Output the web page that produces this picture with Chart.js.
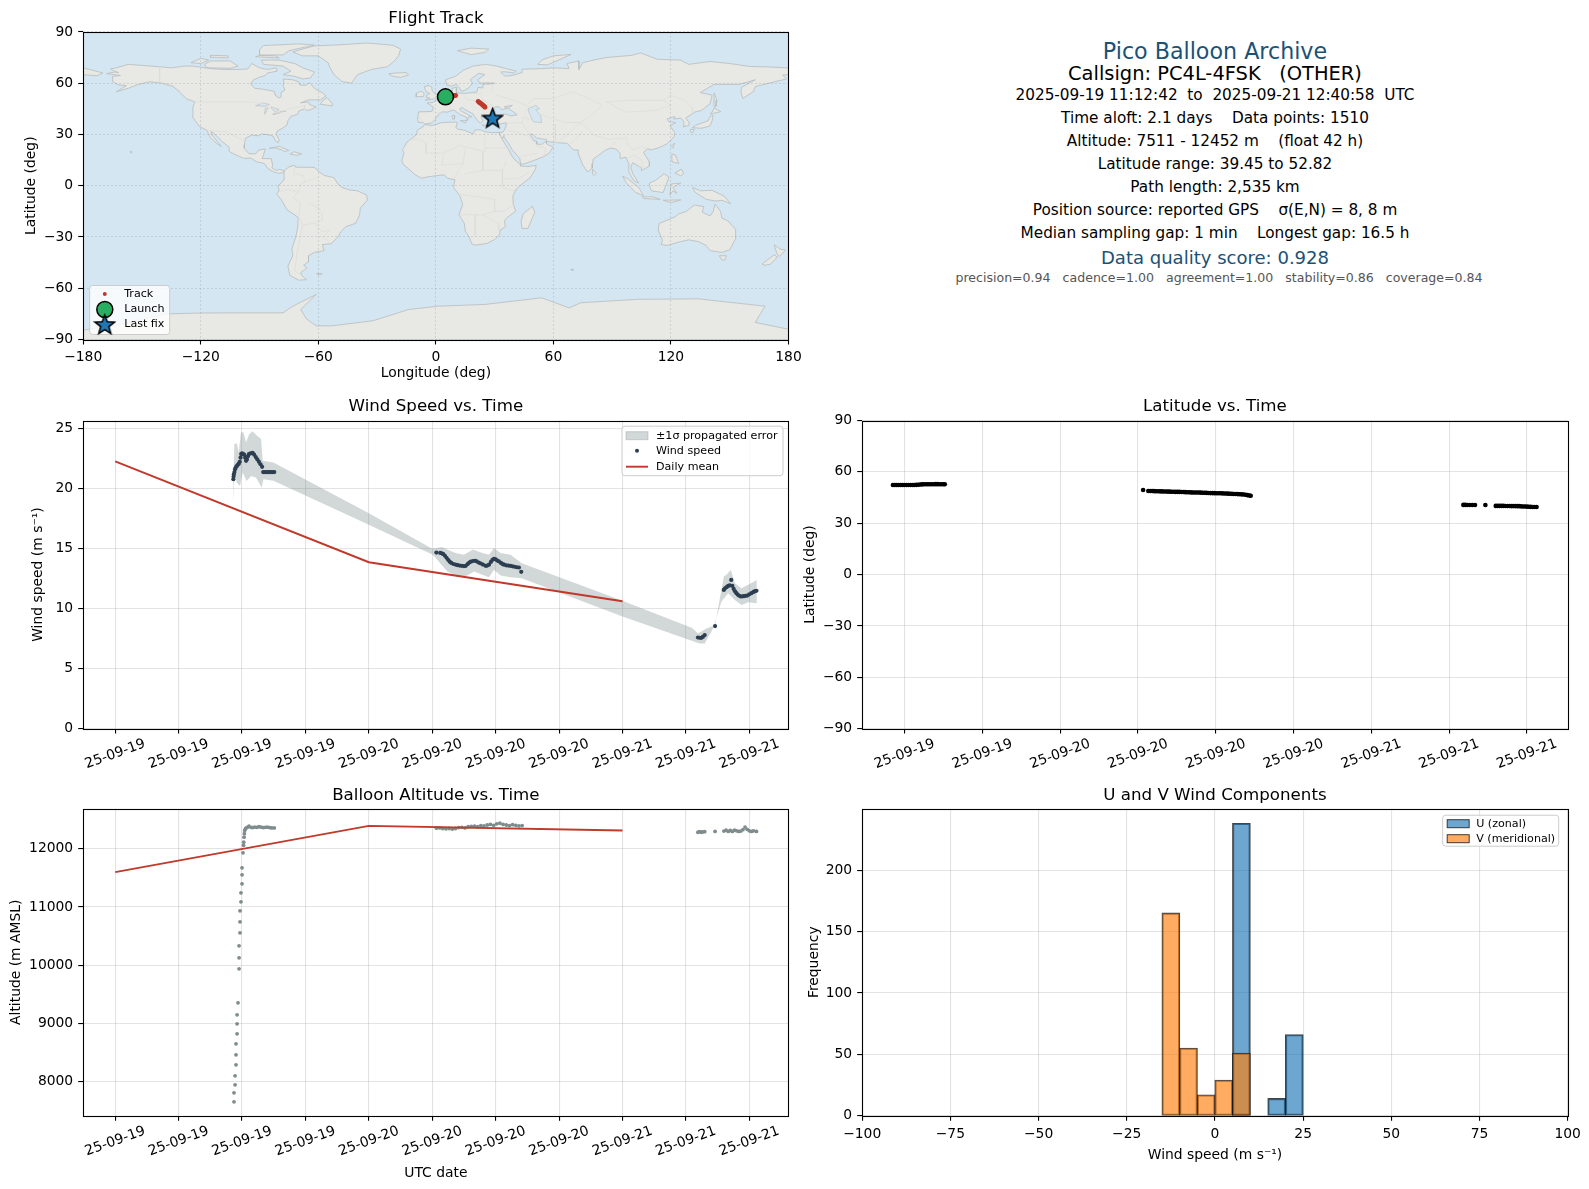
<!DOCTYPE html>
<html>
<head>
<meta charset="utf-8">
<title>Pico Balloon Archive</title>
<script src="https://cdn.jsdelivr.net/npm/chart.js@4/dist/chart.umd.js"></script>
<style>
    html, body { margin: 0; padding: 0; background: #fff; }
    body { position: relative; width: 1589px; height: 1189px; overflow: hidden; font-family: "DejaVu Sans", sans-serif; }
    canvas { position: absolute; display: block; }
    .info { position: absolute; left: 862px; width: 706px; text-align: center; white-space: pre; transform: translateY(-50%); color: #000; font-size: 15.28px; line-height: 1.2; }
    .info.head { color: #1a5276; font-size: 22.2px; }
    .info.call { font-size: 19.44px; }
    .info.score { color: #1a5276; font-size: 18.05px; }
    .info.sub { color: #555; font-size: 12.57px; left: 866px; }
</style>
</head>
<body>
<canvas id="mapChart" width="830" height="385" style="left:0;top:0"></canvas>
<canvas id="windChart" width="830" height="385" style="left:0;top:385px"></canvas>
<canvas id="latChart" width="794" height="385" style="left:795px;top:385px"></canvas>
<canvas id="altChart" width="830" height="419" style="left:0;top:770px"></canvas>
<canvas id="histChart" width="794" height="419" style="left:795px;top:770px"></canvas>
<div class="info head" style="top:50.7px">Pico Balloon Archive</div>
<div class="info call" style="top:74px">Callsign: PC4L-4FSK   (OTHER)</div>
<div class="info" style="top:94.5px">2025-09-19 11:12:42  to  2025-09-21 12:40:58  UTC</div>
<div class="info" style="top:117.6px">Time aloft: 2.1 days    Data points: 1510</div>
<div class="info" style="top:140.5px">Altitude: 7511 - 12452 m    (float 42 h)</div>
<div class="info" style="top:163.5px">Latitude range: 39.45 to 52.82</div>
<div class="info" style="top:186.5px">Path length: 2,535 km</div>
<div class="info" style="top:209.8px">Position source: reported GPS    σ(E,N) = 8, 8 m</div>
<div class="info" style="top:232.5px">Median sampling gap: 1 min    Longest gap: 16.5 h</div>
<div class="info score" style="top:258px">Data quality score: 0.928</div>
<div class="info sub" style="top:278px">precision=0.94   cadence=1.00   agreement=1.00   stability=0.86   coverage=0.84</div>
<script>
// Time axis: hours since 2025-09-19 00:00 UTC
const leftTickHours = [0, 6, 12, 18, 24, 30, 36, 42, 48, 54, 60];
const leftTickLabels = ['25-09-19', '25-09-19', '25-09-19', '25-09-19', '25-09-20', '25-09-20', '25-09-20', '25-09-20', '25-09-21', '25-09-21', '25-09-21'];
const latTickHours = [12, 18, 24, 30, 36, 42, 48, 54, 60];
const latTickLabels = ['25-09-19', '25-09-19', '25-09-20', '25-09-20', '25-09-20', '25-09-20', '25-09-21', '25-09-21', '25-09-21'];

// Wind speed panel
const windHours = [11.18, 11.2, 11.22, 11.28, 11.34, 11.42, 11.5, 11.6, 11.7, 11.78, 11.86, 11.92, 12.0, 12.1, 12.2, 12.3, 12.38, 12.46, 12.55, 12.65, 12.8, 13.0, 13.15, 13.3, 13.45, 13.6, 13.75, 13.9, 14.0, 14.15, 14.3, 14.45, 14.6, 14.75, 14.9, 15.05,
    30.39, 30.75, 30.9, 31.05, 31.2, 31.35, 31.5, 31.65, 31.8, 32.0, 32.2, 32.4, 32.6, 32.8, 33.0, 33.17, 33.35, 33.5, 33.65, 33.85, 34.05, 34.2, 34.4, 34.6, 34.8, 35.05, 35.2, 35.37, 35.55, 35.7, 35.84, 36.0, 36.15, 36.3, 36.5, 36.65, 36.8, 37.0, 37.2, 37.4, 37.6, 37.8, 38.0, 38.2, 38.42,
    55.14, 55.3, 55.46, 55.6, 55.78, 56.76, 57.59, 57.7, 57.85, 58.0, 58.15, 58.29, 58.4, 58.52, 58.65, 58.78, 58.9, 59.05, 59.2, 59.35, 59.5, 59.65, 59.8, 60.0, 60.2, 60.4, 60.55, 60.68];
const windSpeed = [20.8, 21.0, 21.2, 21.4, 21.64, 21.8, 21.9, 22.0, 22.1, 22.26, 22.6, 22.9, 22.95, 22.9, 22.85, 22.6, 22.34, 22.45, 22.7, 22.9, 22.95, 23.0, 22.85, 22.65, 22.45, 22.25, 22.05, 21.84, 21.4, 21.4, 21.4, 21.4, 21.4, 21.4, 21.4, 21.4,
    14.68, 14.65, 14.62, 14.55, 14.42, 14.25, 14.08, 13.92, 13.82, 13.73, 13.68, 13.63, 13.6, 13.58, 13.56, 13.58, 13.72, 13.85, 13.92, 13.98, 14.0, 13.95, 13.85, 13.77, 13.68, 13.58, 13.6, 13.67, 13.9, 14.08, 14.17, 14.12, 14.02, 13.95, 13.82, 13.72, 13.67, 13.62, 13.6, 13.58, 13.54, 13.5, 13.46, 13.44, 13.08,
    7.6, 7.58, 7.57, 7.65, 7.8, 8.55, 11.57, 11.7, 11.8, 11.9, 11.95, 12.4, 11.9, 11.65, 11.45, 11.3, 11.18, 11.08, 11.02, 11.03, 11.05, 11.08, 11.1, 11.2, 11.3, 11.4, 11.46, 11.5];
const bandUpperHours = [11.18, 11.28, 11.5, 11.69, 11.9, 12.13, 12.38, 12.69, 13.0, 13.39, 13.8, 13.95, 14.97, 24, 30, 30.9, 31.43, 32.2, 33, 33.86, 34.74, 35.37, 35.84, 36.47, 37.4, 38.47, 48, 54.6, 55.14, 55.94, 56.76, 57.59, 57.84, 58.25, 58.63, 59.27, 59.9, 60.7];
const bandUpper = [20.94, 23.74, 23.8, 23.04, 24.72, 24.69, 23.88, 24.58, 24.8, 24.44, 24.16, 22.34, 22.2, 17.97, 15.0, 15.15, 14.93, 14.65, 14.5, 14.93, 14.65, 14.5, 15.07, 14.65, 14.5, 13.8, 10.67, 8.4, 7.93, 8.35, 8.63, 12.69, 12.83, 13.25, 12.13, 11.7, 11.99, 12.4];
const bandLowerHours = [60.7, 59.9, 59.27, 58.63, 58, 57.37, 56.57, 55.78, 55.3, 48, 38.47, 37.4, 36.47, 35.84, 35.37, 34.74, 33.95, 33, 32.2, 31.43, 30.05, 24, 14.97, 14.02, 13.86, 13.32, 12.85, 12.44, 12.06, 11.81, 11.5, 11.28, 11.18];
const bandLower = [10.45, 10.53, 10.31, 10.73, 11.29, 10.6, 8.35, 7.1, 7.1, 9.36, 12.55, 12.63, 12.77, 13.25, 12.63, 12.83, 13.1, 12.63, 12.77, 13.1, 14.5, 17.0, 20.67, 20.8, 20.1, 20.94, 21.08, 20.66, 21.36, 20.24, 20.52, 21.5, 18.84];
const dailyHours = [0, 24, 48];
const dailyWind = [22.3, 13.88, 10.62];
const dailyAltitude = [11600, 12395, 12315];

// Latitude panel
const latHours = [11.1, 11.25, 11.4, 11.55, 11.7, 11.85, 12.0, 12.15, 12.3, 12.45, 12.6, 12.75, 12.9, 13.05, 13.2, 13.35, 13.5, 13.65, 13.8, 13.95, 14.1, 14.25, 14.4, 14.55, 14.7, 14.85, 15.0, 15.1,
    30.4, 30.8, 30.95, 31.1, 31.25, 31.4, 31.55, 31.7, 31.85, 32.0, 32.15, 32.3, 32.45, 32.6, 32.75, 32.9, 33.05, 33.2, 33.35, 33.5, 33.65, 33.8, 33.95, 34.1, 34.25, 34.4, 34.55, 34.7, 34.85, 35.0, 35.15, 35.3, 35.45, 35.6, 35.75, 35.9, 36.05, 36.2, 36.35, 36.5, 36.65, 36.8, 36.95, 37.1, 37.25, 37.4, 37.55, 37.7, 37.85, 38.0, 38.15, 38.3, 38.45, 38.6, 38.7,
    55.1, 55.25, 55.4, 55.6, 55.8, 56.0, 56.8, 57.6, 57.75, 57.9, 58.05, 58.2, 58.35, 58.5, 58.65, 58.8, 58.95, 59.1, 59.25, 59.4, 59.55, 59.7, 59.85, 60.0, 60.15, 60.3, 60.45, 60.6, 60.75];
const latValues = [52.3, 52.3, 52.3, 52.3, 52.3, 52.3, 52.3, 52.3, 52.32, 52.32, 52.33, 52.35, 52.4, 52.45, 52.6, 52.68, 52.72, 52.72, 52.75, 52.75, 52.78, 52.8, 52.82, 52.82, 52.8, 52.8, 52.78, 52.78,
    49.4, 48.8, 48.8, 48.78, 48.72, 48.7, 48.65, 48.6, 48.58, 48.55, 48.5, 48.45, 48.42, 48.4, 48.35, 48.3, 48.3, 48.28, 48.22, 48.2, 48.15, 48.1, 48.05, 48.0, 47.98, 47.95, 47.92, 47.9, 47.85, 47.8, 47.75, 47.7, 47.65, 47.6, 47.58, 47.55, 47.52, 47.5, 47.5, 47.45, 47.38, 47.35, 47.28, 47.2, 47.15, 47.1, 47.05, 47.0, 46.92, 46.85, 46.75, 46.6, 46.4, 46.2, 46.0,
    40.7, 40.7, 40.65, 40.65, 40.6, 40.6, 40.6, 40.1, 40.1, 40.1, 40.1, 40.1, 40.08, 40.05, 40.05, 40.0, 40.0, 39.98, 39.95, 39.95, 39.85, 39.8, 39.75, 39.7, 39.6, 39.55, 39.5, 39.5, 39.45];

// Altitude panel
const altHours = [11.24, 11.24, 11.34, 11.34, 11.43, 11.43, 11.43, 11.53, 11.53, 11.53, 11.62, 11.72, 11.72, 11.72, 11.81, 11.81, 11.81, 11.9, 11.9, 12.0, 12.0, 12.0, 12.09, 12.14, 12.16, 12.19, 12.22, 12.25, 12.33, 12.41, 12.55, 12.66, 12.85, 13.0, 13.2, 13.4, 13.6, 13.8, 14.0, 14.2, 14.4, 14.6, 14.8, 15.05,
    30.4, 30.7, 31.0, 31.3, 31.6, 31.9, 32.2, 32.5, 32.8, 33.1, 33.4, 33.7, 34.0, 34.3, 34.6, 34.9, 35.2, 35.5, 35.8, 36.1, 36.4, 36.7, 37.0, 37.3, 37.6, 37.9, 38.2, 38.5,
    55.14, 55.3, 55.46, 55.6, 55.78, 56.76, 57.6, 57.8, 58.0, 58.2, 58.4, 58.6, 58.8, 59.0, 59.2, 59.4, 59.6, 59.8, 60.0, 60.2, 60.4, 60.68];
const altValues = [7650, 7805, 7943, 8097, 8287, 8458, 8648, 8820, 8991, 9146, 9352, 9937, 10126, 10332, 10556, 10745, 10934, 11089, 11244, 11398, 11553, 11673, 11931, 12060, 12115, 12200, 12260, 12315, 12345, 12361, 12375, 12390, 12370, 12365, 12375, 12370, 12380, 12375, 12365, 12370, 12375, 12365, 12360, 12360,
    12355, 12360, 12350, 12345, 12350, 12340, 12350, 12365, 12370, 12360, 12380, 12385, 12390, 12380, 12400, 12395, 12410, 12420, 12405, 12430, 12440, 12420, 12410, 12400, 12415, 12405, 12395, 12400,
    12285, 12295, 12285, 12290, 12295, 12300, 12305, 12320, 12300, 12315, 12300, 12320, 12310, 12300, 12305, 12330, 12375, 12335, 12310, 12300, 12310, 12300];

// Histogram panel
const binCentres = [-12.5, -7.5, -2.5, 2.5, 7.5, 12.5, 17.5, 22.5];
const uCounts = [null, null, null, null, 238, null, 14, 66];
const vCounts = [165, 55, 17, 29, 51, null, null, null];

// Flight track panel, lon / lat in degrees
const trackLon = [8.2, 8.8, 9.4, 9.8, 10.1, 21.6, 22.0, 22.4, 22.8, 23.2, 23.6, 24.0, 24.4, 24.8, 25.1];
const trackLat = [52.3, 52.4, 52.6, 52.7, 52.8, 49.4, 48.9, 48.6, 48.2, 47.9, 47.5, 47.1, 46.7, 46.3, 45.9];
const launchLon = [4.9];
const launchLat = [52.0];
const lastFixLon = [29.0];
const lastFixLat = [39.6];

const landNorthAmerica = [[-168,65.6],[-164,66.5],[-162,66.2],[-164,67],[-166,68.4],[-163,69],[-157,71],[-150,70.4],[-141,69.6],[-135,69],[-128,70],[-124,70],[-115,68.5],[-108,68],[-102,68],[-96,68.3],[-94,71.5],[-90,69],[-86,68],[-81.5,69],[-81,67],[-86,66],[-87,64.5],[-90,63.5],[-93,62],[-94.5,59.5],[-92.5,57],[-88,56.4],[-82.5,55.2],[-82,52.9],[-80,51.3],[-79,52],[-79,54.5],[-77,56],[-78,58.5],[-77.5,60.5],[-78,62.4],[-73,62],[-70,60.8],[-69.5,59],[-66.5,58.7],[-64.5,60.3],[-61.5,56.5],[-58,54.5],[-56,52.5],[-59,50.3],[-65,50.2],[-69,48.5],[-65,49],[-64.5,47.5],[-61,46],[-64,44.5],[-66,44],[-67,45],[-70,43.7],[-70.5,41.8],[-74,40.6],[-75.5,38],[-76,35.5],[-78,33.8],[-81,32],[-81.4,30],[-80,26.8],[-80.5,25.2],[-81.8,26],[-83,29],[-85,29.7],[-89,30.3],[-90,29.2],[-94,29.6],[-97.2,27.8],[-97.7,24],[-97.8,22],[-95.5,18.8],[-92,18.6],[-90.5,20.8],[-87,21.5],[-88,18],[-88.7,15.9],[-84,15.8],[-83.3,12],[-83.7,10.5],[-81.5,9],[-79.5,9.5],[-77.4,8.7],[-78,7.5],[-80.5,7.3],[-83,8.2],[-85.7,10],[-87.5,13],[-91.5,14],[-94.5,16.2],[-98,16],[-102,18],[-105.5,20],[-105.5,22.5],[-109,25.8],[-112.7,30],[-114.8,31.8],[-114.5,30],[-111,25],[-109.5,23],[-112,24.8],[-115,28],[-117,32.5],[-120.5,34.5],[-122.5,37.5],[-124.3,40.4],[-124,46],[-123,49],[-127.5,51],[-130.5,54.5],[-134,58],[-140,60],[-146,60.8],[-152,59.2],[-157,57],[-163,55],[-158,58.5],[-162,59],[-165,61],[-165,64],[-161,64.5],[-168,65.6]];
const landGreenland = [[-73,78.2],[-68,80],[-62,81.8],[-50,82.4],[-35,83.5],[-22,82.2],[-18,80],[-19,76],[-22,72],[-25,69.5],[-33,68],[-40,65],[-43,60],[-48,61],[-52,65],[-54,69],[-55,72],[-60,76],[-68,76],[-73,78.2]];
const landBaffin = [[-80,73.5],[-72,71.5],[-68,69],[-62,66.5],[-64,63],[-68,62.5],[-72,64],[-78,65],[-74,67],[-78,70],[-88,71],[-89,73.5],[-80,73.5]];
const landVictoria = [[-117,69],[-105,68.7],[-101,70],[-105,73],[-115,73],[-118,71],[-117,69]];
const landBanks = [[-125,72],[-120,71.5],[-116,73.5],[-120,74.5],[-125,72]];
const landEllesmere = [[-90,76.5],[-78,76.5],[-75,79],[-62,82.3],[-70,83],[-88,82],[-90,79.5],[-90,76.5]];
const landDevon = [[-92,75.5],[-80,74.7],[-82,76],[-90,76.2],[-92,75.5]];
const landMelville = [[-115,75.2],[-106,74.8],[-106,76],[-115,76.3],[-115,75.2]];
const landNewfoundland = [[-59,47.7],[-53,46.7],[-52.8,48],[-55.5,51.5],[-57.5,50],[-59,47.7]];
const landCuba = [[-85,21.9],[-80,23],[-75,20.7],[-77.5,19.9],[-78,20.7],[-82,22.2],[-85,21.9]];
const landHispaniola = [[-74.4,18.5],[-72.5,19.9],[-68.5,18.6],[-71,17.8],[-74.4,18.5]];
const landHawaii = [[-156,20.2],[-155,19.7],[-155.6,19],[-156,20.2]];
const landSouthAmerica = [[-77.4,8.7],[-75,11],[-72,12],[-71.5,10.8],[-68,10.8],[-62,10.7],[-60,8.5],[-57,6],[-52,4.7],[-50,1],[-48,-1],[-44,-2.5],[-40,-3],[-35.3,-5.5],[-35,-8.5],[-38.5,-13],[-39,-17.5],[-41,-22],[-46,-24],[-48.5,-27],[-50,-30],[-53.5,-34],[-58,-34.5],[-57,-38],[-62,-39],[-65,-41],[-65,-44.5],[-67.5,-46.5],[-65.8,-48],[-69,-51],[-68.5,-52.5],[-66,-55],[-70,-55.3],[-74.5,-52.5],[-75.5,-47],[-73,-41],[-73.5,-37],[-71.5,-30],[-70.5,-24],[-70.3,-18.5],[-76,-14],[-79,-8],[-81.2,-5],[-80,-2.5],[-80.5,0],[-78.5,2],[-77.3,4],[-77.5,7],[-77.4,8.7]];
const landAfrica = [[-5.8,35.8],[-2,35.2],[3,36.9],[10,37.3],[11,36.8],[10.2,34],[11,33.2],[15,32.3],[19,30.3],[20,32.7],[23,32.6],[25,31.6],[29,31],[32.3,31.2],[32.5,30],[33.5,28],[35.5,24],[37.2,21],[38.5,18],[40,15.5],[43,12.5],[43.3,11.5],[47,11.2],[51.2,11.9],[50.8,9.5],[48,4.5],[44,1],[41,-2],[39.3,-6],[39.5,-10.5],[40.7,-15],[36.5,-18.5],[35,-20.5],[35.5,-24],[32.8,-26],[32.5,-28.5],[30,-31.5],[26,-33.8],[20,-34.8],[18.3,-34],[17,-30],[15,-26.5],[14.5,-22],[11.8,-17],[13.7,-11],[12.3,-6],[9,-1],[9.7,3.5],[6,4.3],[4.3,6.3],[1,6],[-4,5.2],[-7.5,4.4],[-11,6.8],[-13.5,9.5],[-16.7,12.5],[-17.4,14.7],[-16.2,19],[-17,21],[-14.8,25.5],[-12,28],[-9.7,30],[-9.5,32.5],[-6.5,34.5],[-5.8,35.8]];
const landEurasia = [[-9,37],[-9.3,39],[-8.8,43.2],[-2,43.4],[-1.2,46],[-4.5,48.4],[-1.5,48.7],[1.5,50.7],[4,52],[5,53.3],[8.5,53.8],[8.2,57],[10.5,57.6],[10.5,54.5],[12,54.2],[14.5,54],[19,54.5],[21,55],[21.5,57.5],[24,57.2],[24,59.3],[28,59.6],[30,60],[26,60.2],[22.5,60],[21.3,62],[25,65],[22,65.8],[17.5,62],[18.8,60],[16.5,57],[14.3,55.6],[13,55.4],[11.5,58],[10.5,59.3],[8,58.2],[5.5,59],[5,62],[10,64],[14,67.5],[19,70],[25.5,71],[31,70],[41,67],[40,66],[35,66.7],[33,66.5],[35,64.3],[37,64.2],[40,64.8],[44,66.2],[44,68.2],[54,68.5],[60,69],[68,68.5],[67,71.5],[73,73],[73,68],[75,72],[80.5,73.5],[87,75],[100,76.3],[104.5,77.7],[113,74],[125,73.5],[129,71],[140,72.7],[150,71.5],[160,69.8],[170,69.5],[180,68.9],[180,65],[177,64.7],[179,62.5],[170,60],[163,58],[162,55],[156.7,51],[155.7,55],[156,57.5],[163,62],[155,59.3],[142,59.3],[135,54.5],[141,53],[140,48],[135.5,44],[132,43],[129.5,41],[127.5,39.5],[129.3,37],[129,35.2],[126.3,34.5],[126.6,37.5],[125,39.6],[121.5,39],[122,40.5],[118,39],[119,37.3],[122.5,37],[119.5,35],[122,31],[121.5,28.5],[118,24.5],[114,22.3],[110,21],[108,21.6],[106,19.5],[109,14],[109,11.5],[105,8.8],[105,10.4],[100.5,13.5],[99.5,11],[100.5,7],[103.5,1.5],[101,3],[98.5,8],[98.5,13],[97,16.7],[94.5,16],[94,19],[92,21.5],[89,22],[87,21],[85,19.5],[80.3,15.5],[80,13],[79.8,10.3],[77.5,8],[75,12],[73,18],[72.7,21],[70.5,20.8],[69,22.3],[67,24.8],[61.5,25.2],[57,25.8],[56.4,27],[51.5,27.9],[49,30.3],[48,30],[50,26.5],[51.3,26],[51.5,24.3],[54,24.2],[56.3,26],[56.5,24.5],[59.8,22.5],[57.8,19],[55,17],[52,15.6],[45,12.7],[43.3,12.8],[42.8,16],[39,21],[37,25],[35,28],[34.8,29.5],[34,27.8],[33,28.5],[32.6,29.9],[32.3,31.2],[34.3,31.3],[35.8,34.5],[36,36.8],[32.5,36.1],[30.5,36.5],[27.3,37],[26.3,39.3],[29,41],[31.5,41.2],[35,42],[38.5,40.9],[41.5,41.5],[38,44.5],[37,45.3],[39,47],[35,46.2],[36.5,45.3],[33.5,44.5],[32.5,46],[30.5,46.3],[28,43.2],[28,41.6],[26,40.8],[23,40.4],[24,38],[22.7,36.6],[21,38.5],[19.5,41],[19,42],[15,44.5],[13.6,45.7],[12.3,45.2],[12.5,44],[16,41.8],[18.5,40.2],[16.8,40.4],[16,38],[15.7,40],[12.3,41.7],[10.2,43.5],[8.8,44.4],[6,43.1],[3.2,43.2],[0.5,40.7],[-0.3,38.8],[-2,36.8],[-5.5,36],[-6.5,37],[-9,37]];
const landChukotka = [[-180,68.9],[-175,67.5],[-170,66],[-173,64.3],[-180,65],[-180,68.9]];
const landBritain = [[-5.5,50],[1.4,51.2],[1.7,52.7],[-0.3,53.5],[-2,56],[-2,57.6],[-3.5,58.6],[-6,58],[-5,55],[-3,54],[-4.5,53.2],[-5,51.8],[-3,51.3],[-5.5,50]];
const landIreland = [[-10,52],[-6.3,52.2],[-6,54],[-7.5,55.3],[-10,54.2],[-10,52]];
const landIceland = [[-24,65.5],[-22,64],[-18,63.4],[-14,64.8],[-15,66.2],[-20,66],[-24,65.5]];
const landSvalbard = [[11,79],[18,76.7],[25,78],[27,80],[18,80.5],[11,79]];
const landNovayaZemlya = [[52,71],[57,70.7],[69,76.8],[60,76],[54,73.5],[52,71]];
const landSicily = [[12.5,38],[15.5,38.2],[15,36.7],[12.5,38]];
const landSardinia = [[8.2,41],[9.7,41],[9.5,39],[8.5,39],[8.2,41]];
const landCrete = [[23.5,35.5],[26.3,35.3],[24.5,34.9],[23.5,35.5]];
const landHonshu = [[130.9,34],[135.5,33.6],[140,35],[141,38],[141.5,41.3],[140,40.5],[139,38],[136.5,37],[132.5,35.3],[130.9,34]];
const landHokkaido = [[140,42],[145.5,43.3],[142,45.5],[141,43],[140,42]];
const landKyushu = [[130,33],[132,33],[131,31],[130,31.5],[130,33]];
const landSakhalin = [[142,54.3],[143.5,50],[143,46.5],[142,46],[142,50],[142,54.3]];
const landTaiwan = [[120.2,23],[121.8,25],[121,22],[120.2,23]];
const landLuzon = [[120.5,18.5],[122.2,18],[124,13],[120.5,14],[120.5,18.5]];
const landMindanao = [[122,7.5],[125.5,9.7],[126.5,7],[125,5.8],[122,7.5]];
const landBorneo = [[109,1.5],[112,3],[116.5,7],[119,5],[117.7,1],[116,-4],[110,-3],[109,0],[109,1.5]];
const landSumatra = [[95.3,5.6],[98,4],[103.5,-1],[106,-5.8],[102,-4],[97,2],[95.3,5.6]];
const landJava = [[105.3,-6.5],[111,-6.5],[114.5,-8],[106,-7.5],[105.3,-6.5]];
const landSulawesi = [[119.5,-5.5],[120,1],[125,1.5],[121,-1],[123,-4.5],[121,-3],[119.5,-5.5]];
const landNewGuinea = [[131,-1],[135,-3],[141,-2.7],[147,-6],[150.5,-10.5],[146,-8.5],[143,-9],[138,-8],[132.5,-4],[131,-1]];
const landLesserSunda = [[116,-8.5],[125,-8.3],[120,-10],[116,-8.5]];
const landAustralia = [[114,-22],[113.5,-26],[115.7,-32],[115,-34.4],[118,-35],[124,-33],[129,-31.7],[134,-32.7],[138,-35],[140,-38],[146,-39],[150,-37.5],[153,-31],[153,-25.5],[149,-20.5],[146,-19],[145.3,-15],[142.5,-10.8],[141.6,-15],[140,-17.7],[136,-15.5],[136.8,-12.2],[132,-11.3],[130,-13],[128,-15],[124,-16.5],[122,-18.3],[117,-20.7],[114,-22]];
const landTasmania = [[144.7,-41],[148.3,-41],[147.5,-43.5],[146,-43.5],[144.7,-41]];
const landNzNorth = [[172.7,-34.5],[175.5,-37],[178.5,-37.7],[175.3,-41.5],[174,-39.5],[172.7,-34.5]];
const landNzSouth = [[172.7,-40.5],[174.3,-41.7],[171,-45.8],[168,-46.6],[166.5,-45.8],[172.7,-40.5]];
const landMadagascar = [[49.3,-12],[50.5,-15.5],[47,-25],[44,-25],[43.5,-21],[44.5,-16.5],[49.3,-12]];
const landSriLanka = [[80,9.7],[81.9,7.3],[80.7,5.9],[79.8,7.5],[80,9.7]];
const landFalkland = [[-61,-51.5],[-58,-51.5],[-59,-52.3],[-61,-51.5]];
const landKerguelen = [[68.8,-49],[70.5,-49],[69.5,-49.8],[68.8,-49]];
const landAntarctica = [[-180,-90],[-180,-84.5],[-160,-81],[-150,-78],[-137,-75],[-120,-74.5],[-98,-74.4],[-78,-74.4],[-73,-70.5],[-61,-63.6],[-69,-72.4],[-66,-78],[-61,-82],[-53,-82],[-32,-79],[-14,-72.5],[1,-70.5],[25,-69.5],[54,-65.6],[68,-71.5],[74,-68.5],[103,-66.5],[134,-66.2],[168,-70.5],[163,-80],[180,-84],[180,-90],[-180,-90]];
const landShapes = [landNorthAmerica, landGreenland, landBaffin, landVictoria, landBanks, landEllesmere, landDevon, landMelville, landNewfoundland, landCuba, landHispaniola, landHawaii, landSouthAmerica, landAfrica, landEurasia, landChukotka, landBritain, landIreland, landIceland, landSvalbard, landNovayaZemlya, landSicily, landSardinia, landCrete, landHonshu, landHokkaido, landKyushu, landSakhalin, landTaiwan, landLuzon, landMindanao, landBorneo, landSumatra, landJava, landSulawesi, landNewGuinea, landLesserSunda, landAustralia, landTasmania, landNzNorth, landNzSouth, landMadagascar, landSriLanka, landFalkland, landKerguelen, landAntarctica];

const lakeCaspian = [[47,45],[51,47],[53,45],[51,44.5],[53.5,41],[54,37],[50,37.3],[49,39],[47.5,43],[47,45]];
const lakeSuperior = [[-92,46.8],[-88,48.5],[-85,47.5],[-87,46.5],[-92,46.8]];
const lakeMichigan = [[-87.5,41.8],[-85.5,45.5],[-87,45.5],[-87.5,41.8]];
const lakeHuron = [[-84,46],[-80,44.6],[-82,43],[-84,45.5],[-84,46]];
const lakeErie = [[-83,41.6],[-79,42.8],[-79,43.6],[-76.5,43.5],[-79.5,43.2],[-83,42],[-83,41.6]];
const lakeShapes = [lakeCaspian, lakeSuperior, lakeMichigan, lakeHuron, lakeErie];

const borderLines = [
    [[-141,69.6],[-141,60.3],[-135,59.5],[-130,55]],
    [[-123,49],[-95,49],[-88,48],[-83,46],[-82,43],[-79,43],[-75,45],[-70,46],[-67,47],[-67,45]],
    [[-117,32.5],[-108,31.5],[-106.5,31.8],[-103,29],[-97.2,26]],
    [[-70,-18],[-69,-10],[-73,-7],[-70,-4],[-69,1],[-67,2],[-60,5]],
    [[-80,-3.5],[-75,-2],[-70,-4]],
    [[-72,12],[-72.5,7],[-67.5,6],[-67,2]],
    [[-70,-18],[-68,-23],[-71,-40],[-72,-50],[-69,-52]],
    [[-68,-23],[-62,-22],[-58,-20],[-58,-16],[-60,-13],[-65,-10]],
    [[-62,-22],[-58,-27],[-54,-26],[-57.5,-30],[-53.5,-33.8]],
    [[-9,27.5],[-5,25],[-5,19],[4,19],[12,23.5],[25,20],[25,31.5]],
    [[25,22],[36,22]],
    [[-17,21],[-13,27],[-9,27.5]],
    [[4,19],[3,12],[14,13],[15,22]],
    [[14,13],[9,4]],
    [[24,20],[24,9],[15,7]],
    [[24,9],[34,9],[36,14.5]],
    [[34,9],[34,-1],[40,-3]],
    [[12,-5],[30,-8],[30,-15],[35,-15],[40,-11]],
    [[12,-17],[24,-17],[30,-15]],
    [[20,-17],[20,-29]],
    [[34,4],[42,4],[48,8]],
    [[24,-17],[32,-22],[32,-26]],
    [[-9,42],[-7,37]],
    [[-2,43.4],[3,42.5]],
    [[2.5,51],[8,49],[7,44]],
    [[14,54],[15,51],[22,49],[24,44]],
    [[19,54],[23,54],[24,50],[30,46]],
    [[28,56],[30,60]],
    [[31,53],[40,50],[48,46]],
    [[52,42],[55,41],[66,37],[74,37],[80,42],[85,47],[80,50],[70,55],[60,51],[50,51],[47,48]],
    [[87,49],[98,50],[106,50],[116,50],[120,53],[127,50],[131,45],[131,43]],
    [[87,49],[97,43],[112,44],[120,47],[116,50]],
    [[74,37],[78,33],[80,30],[88,27],[97,28],[98,24],[101,21],[105,23],[108,21.6]],
    [[61,36],[61,25]],
    [[74,37],[71,34],[67,30],[62,25]],
    [[68,24],[71,27],[75,32]],
    [[44,37],[46,33],[48,30]],
    [[36,36.5],[44,37],[44.5,40],[48.5,38.5]],
    [[36,32],[39,32],[47,29],[52,23],[56,22],[55,17]],
    [[43,17],[52,19]],
    [[92,26],[89,22]],
    [[98,16],[101,18],[105,15],[106,11],[103,11]]
];

// Colours
const C_RED = '#c0392b';
const C_NAVY = '#2c3e50';
const C_GREY = '#7f8c8d';
const C_BAND = 'rgba(127,140,141,0.35)';
const C_GREEN = '#27ae60';
const C_STAR = '#1f77b4';
const C_OCEAN = '#d4e6f1';
const C_LAND = '#e8e8e4';
const C_COAST = '#b8bcbd';
const C_BORDER = '#dcdcd8';
const C_GRID = 'rgba(176,176,176,0.35)';
const C_U = 'rgba(31,119,180,0.65)';
const C_V = 'rgba(255,127,14,0.65)';
const C_EDGE = 'rgba(20,20,20,0.8)';

Chart.defaults.font.family = '"DejaVu Sans", sans-serif';
Chart.defaults.font.size = 13.89;
Chart.defaults.color = '#000';
Chart.defaults.animation = false;
Chart.defaults.events = [];

const starCanvas = makeStar(23, C_STAR);

function makeStar(size, fill) {
    const c = document.createElement('canvas');
    c.width = size;
    c.height = size;
    const g = c.getContext('2d');
    const mid = size / 2;
    const outer = size / 2 - 1.2;
    const inner = outer * 0.42;
    g.beginPath();
    for (let i = 0; i < 10; i++) {
        const r = i % 2 ? inner : outer;
        const a = -Math.PI / 2 + i * Math.PI / 5;
        g.lineTo(mid + r * Math.cos(a), mid + 0.8 + r * Math.sin(a));
    }
    g.closePath();
    g.fillStyle = fill;
    g.fill();
    g.lineWidth = 1.5;
    g.strokeStyle = '#000';
    g.lineJoin = 'miter';
    g.stroke();
    return c;
}

function pairs(xs, ys) {
    return xs.map((x, i) => ({ x: x, y: ys[i] }));
}

function lonLat(shape) {
    return shape.map(p => ({ x: p[0], y: p[1] }));
}

function fixedTicks(values) {
    return (scale) => { scale.ticks = values.map(v => ({ value: v })); };
}

function minus(v) {
    return String(v).replace('-', '\u2212');
}

// Black box round the plot area
const framePlugin = {
    id: 'frame',
    afterDraw(chart) {
        const a = chart.chartArea;
        const g = chart.ctx;
        g.save();
        g.strokeStyle = '#000';
        g.lineWidth = 1.1;
        g.strokeRect(Math.round(a.left) + 0.5, Math.round(a.top) + 0.5, Math.round(a.right - a.left), Math.round(a.bottom - a.top));
        g.restore();
    }
};

const oceanPlugin = {
    id: 'ocean',
    beforeDraw(chart) {
        const a = chart.chartArea;
        chart.ctx.fillStyle = C_OCEAN;
        chart.ctx.fillRect(a.left, a.top, a.right - a.left, a.bottom - a.top);
    }
};

// matplotlib style legend box sitting inside the axes
function legendPlugin(spec) {
    return {
        id: 'boxLegend',
        afterDraw(chart) {
            const a = chart.chartArea;
            const g = chart.ctx;
            const x = spec.right !== undefined ? a.right - spec.right - spec.w : a.left + spec.left;
            const y = spec.bottom !== undefined ? a.bottom - spec.bottom - spec.h : a.top + spec.top;
            g.save();
            g.beginPath();
            g.roundRect(x + 0.5, y + 0.5, spec.w, spec.h, 3);
            g.fillStyle = 'rgba(255,255,255,0.8)';
            g.fill();
            g.strokeStyle = '#cccccc';
            g.lineWidth = 1;
            g.stroke();
            g.font = '11.11px "DejaVu Sans"';
            g.textBaseline = 'middle';
            g.textAlign = 'left';
            spec.rows.forEach(row => {
                const cy = y + row.y;
                const cx = x + spec.swatch;
                if (row.kind === 'patch') {
                    g.fillStyle = row.color;
                    g.fillRect(cx - 11, cy - 4, 22, 8);
                    g.strokeStyle = row.edge;
                    g.lineWidth = 1;
                    g.strokeRect(cx - 11, cy - 4, 22, 8);
                } else if (row.kind === 'dot') {
                    g.beginPath();
                    g.arc(cx, cy, row.r, 0, Math.PI * 2);
                    g.fillStyle = row.color;
                    g.fill();
                    if (row.edge) {
                        g.lineWidth = 1.5;
                        g.strokeStyle = row.edge;
                        g.stroke();
                    }
                } else if (row.kind === 'line') {
                    g.beginPath();
                    g.moveTo(cx - 11, cy);
                    g.lineTo(cx + 11, cy);
                    g.strokeStyle = row.color;
                    g.lineWidth = 1.9;
                    g.stroke();
                } else if (row.kind === 'star') {
                    g.drawImage(starCanvas, cx - starCanvas.width / 2, cy - starCanvas.height / 2);
                }
                g.fillStyle = '#000';
                g.fillText(row.label, x + spec.text, cy);
            });
            g.restore();
        }
    };
}

function titleOptions(text, top, bottom) {
    return {
        display: true,
        text: text,
        fullSize: false,
        font: { size: 16.67, weight: 'normal' },
        color: '#000',
        padding: { top: top, bottom: bottom }
    };
}

function gridOptions() {
    return { color: C_GRID, lineWidth: 1.1, tickColor: '#000', tickWidth: 1.1, tickLength: 5, offset: false };
}

function xAxis(min, max, tickValues, labelFor, boxHeight, rotated, titleText, titlePad) {
    return {
        type: 'linear',
        min: min,
        max: max,
        offset: false,
        border: { display: false },
        grid: gridOptions(),
        afterBuildTicks: fixedTicks(tickValues),
        afterFit: (scale) => { scale.height = boxHeight; },
        title: { display: !!titleText, text: titleText || '', font: { size: 13.89 }, padding: { top: 0, bottom: titlePad || 0 } },
        ticks: rotated
            ? { autoSkip: false, minRotation: 20, maxRotation: 20, labelOffset: 29.6, padding: 2, callback: labelFor }
            : { autoSkip: false, maxRotation: 0, padding: 5, callback: labelFor }
    };
}

function yAxis(min, max, tickValues, boxWidth, titleText, titlePad) {
    return {
        type: 'linear',
        min: min,
        max: max,
        border: { display: false },
        grid: gridOptions(),
        afterBuildTicks: fixedTicks(tickValues),
        afterFit: (scale) => { scale.width = boxWidth; },
        title: { display: true, text: titleText, font: { size: 13.89 }, padding: { top: titlePad, bottom: 0 } },
        ticks: { autoSkip: false, padding: 5, callback: (v) => minus(v) }
    };
}

function leftTimeLabel(v, i) {
    return leftTickLabels[i];
}

function latTimeLabel(v, i) {
    return latTickLabels[i];
}

function buildMapDatasets() {
    const sets = [
        { label: 'Track', data: pairs(trackLon, trackLat), pointRadius: 2.4, pointBackgroundColor: C_RED, pointBorderWidth: 0, order: 3 },
        { label: 'Launch', data: pairs(launchLon, launchLat), pointRadius: 8, pointBackgroundColor: C_GREEN, pointBorderColor: '#000', pointBorderWidth: 1.5, order: 2 },
        { label: 'Last fix', data: pairs(lastFixLon, lastFixLat), pointStyle: starCanvas, pointRadius: 11, order: 1 }
    ];
    landShapes.forEach(shape => {
        sets.push({ data: lonLat(shape), showLine: true, fill: 'shape', backgroundColor: C_LAND, borderColor: C_COAST, borderWidth: 0.8, pointRadius: 0, tension: 0, order: 10 });
    });
    lakeShapes.forEach(shape => {
        sets.push({ data: lonLat(shape), showLine: true, fill: 'shape', backgroundColor: C_OCEAN, borderColor: C_COAST, borderWidth: 0.6, pointRadius: 0, tension: 0, order: 9 });
    });
    borderLines.forEach(line => {
        sets.push({ data: lonLat(line), showLine: true, fill: false, borderColor: C_BORDER, borderWidth: 0.7, pointRadius: 0, tension: 0, order: 8 });
    });
    return sets;
}

function initMapChart() {
    const x = xAxis(-180, 180, [-180, -120, -60, 0, 60, 120, 180], (v) => minus(v), 45.5, false, 'Longitude (deg)', 3);
    const y = yAxis(-90, 90, [-90, -60, -30, 0, 30, 60, 90], 83.2, 'Latitude (deg)', 23);
    [x, y].forEach(s => {
        s.grid.color = 'rgba(110,120,125,0.3)';
        s.grid.lineWidth = 0.7;
        s.grid.z = 1;
        s.border = { display: false, dash: [2, 2] };
    });
    new Chart(document.getElementById('mapChart'), {
        type: 'scatter',
        data: { datasets: buildMapDatasets() },
        options: {
            responsive: false,
            layout: { padding: { right: 41.5 } },
            plugins: { legend: { display: false }, tooltip: { enabled: false }, title: titleOptions('Flight Track', 8.7, 3.2) },
            scales: { x: x, y: y }
        },
        plugins: [oceanPlugin, framePlugin, legendPlugin({
            left: 6, bottom: 5.5, w: 80, h: 49, swatch: 15.6, text: 35,
            rows: [
                { kind: 'dot', label: 'Track', y: 9, r: 2, color: C_RED },
                { kind: 'dot', label: 'Launch', y: 24.5, r: 8, color: C_GREEN, edge: '#000' },
                { kind: 'star', label: 'Last fix', y: 39.5 }
            ]
        })]
    });
}

function initWindChart() {
    const polygon = pairs(bandUpperHours, bandUpper).concat(pairs(bandLowerHours, bandLower));
    new Chart(document.getElementById('windChart'), {
        type: 'scatter',
        data: {
            datasets: [
                { label: 'Wind speed', data: pairs(windHours, windSpeed), pointRadius: 2.1, pointBackgroundColor: C_NAVY, pointBorderWidth: 0, order: 1 },
                { label: 'Daily mean', data: pairs(dailyHours, dailyWind), showLine: true, borderColor: C_RED, borderWidth: 1.9, pointRadius: 0, tension: 0, order: 2 },
                { label: '\u00b11\u03c3 propagated error', data: polygon, showLine: true, fill: 'shape', backgroundColor: C_BAND, borderWidth: 0, pointRadius: 0, tension: 0, order: 3 }
            ]
        },
        options: {
            responsive: false,
            layout: { padding: { right: 41.5 } },
            plugins: { legend: { display: false }, tooltip: { enabled: false }, title: titleOptions('Wind Speed vs. Time', 12.1, 3.4) },
            scales: {
                x: xAxis(-3.03, 63.71, leftTickHours, leftTimeLabel, 41.4, true),
                y: yAxis(0, 25.7, [0, 5, 10, 15, 20, 25], 83.2, 'Wind speed (m s\u207b\u00b9)', 30)
            }
        },
        plugins: [framePlugin, legendPlugin({
            right: 6, top: 5.2, w: 161, h: 49.5, swatch: 15.5, text: 34.5,
            rows: [
                { kind: 'patch', label: '\u00b11\u03c3 propagated error', y: 10, color: C_BAND, edge: 'rgba(127,140,141,0.35)' },
                { kind: 'dot', label: 'Wind speed', y: 25, r: 2, color: C_NAVY },
                { kind: 'line', label: 'Daily mean', y: 41, color: C_RED }
            ]
        })]
    });
}

function initLatChart() {
    new Chart(document.getElementById('latChart'), {
        type: 'scatter',
        data: { datasets: [{ label: 'Latitude', data: pairs(latHours, latValues), pointRadius: 2.3, pointBackgroundColor: '#000', pointBorderWidth: 0 }] },
        options: {
            responsive: false,
            layout: { padding: { right: 21.3 } },
            plugins: { legend: { display: false }, tooltip: { enabled: false }, title: titleOptions('Latitude vs. Time', 12.1, 3.4) },
            scales: {
                x: xAxis(8.73, 63.15, latTickHours, latTimeLabel, 41.4, true),
                y: yAxis(-90, 90, [-90, -60, -30, 0, 30, 60, 90], 67.2, 'Latitude (deg)', 6.7)
            }
        },
        plugins: [framePlugin]
    });
}

function initAltChart() {
    new Chart(document.getElementById('altChart'), {
        type: 'scatter',
        data: {
            datasets: [
                { label: 'Daily mean', data: pairs(dailyHours, dailyAltitude), showLine: true, borderColor: C_RED, borderWidth: 1.9, pointRadius: 0, tension: 0, order: 1 },
                { label: 'Altitude', data: pairs(altHours, altValues), pointRadius: 1.9, pointBackgroundColor: C_GREY, pointBorderWidth: 0, order: 2 }
            ]
        },
        options: {
            responsive: false,
            layout: { padding: { right: 41.5 } },
            plugins: { legend: { display: false }, tooltip: { enabled: false }, title: titleOptions('Balloon Altitude vs. Time', 15.3, 3.4) },
            scales: {
                x: xAxis(-3.03, 63.71, leftTickHours, leftTimeLabel, 73.2, true, 'UTC date', 7.2),
                y: yAxis(7410, 12690, [8000, 9000, 10000, 11000, 12000], 83.2, 'Altitude (m AMSL)', 7.9)
            }
        },
        plugins: [framePlugin]
    });
}

function initHistChart() {
    new Chart(document.getElementById('histChart'), {
        type: 'bar',
        data: {
            datasets: [
                { label: 'U (zonal)', data: pairs(binCentres, uCounts), backgroundColor: C_U, borderColor: C_EDGE, borderWidth: 1.1, borderSkipped: false, inflateAmount: 0.5, grouped: false, barPercentage: 1, categoryPercentage: 1, order: 2 },
                { label: 'V (meridional)', data: pairs(binCentres, vCounts), backgroundColor: C_V, borderColor: C_EDGE, borderWidth: 1.1, borderSkipped: false, inflateAmount: 0.5, grouped: false, barPercentage: 1, categoryPercentage: 1, order: 1 }
            ]
        },
        options: {
            responsive: false,
            layout: { padding: { right: 21.3 } },
            plugins: { legend: { display: false }, tooltip: { enabled: false }, title: titleOptions('U and V Wind Components', 15.3, 3.4) },
            scales: {
                x: xAxis(-100, 100, [-100, -75, -50, -25, 0, 25, 50, 75, 100], (v) => minus(v), 73.2, false, 'Wind speed (m s\u207b\u00b9)', 25.4),
                y: yAxis(0, 250, [0, 50, 100, 150, 200], 67.2, 'Frequency', 10.7)
            }
        },
        plugins: [framePlugin, legendPlugin({
            right: 9.5, top: 6, w: 116, h: 31, swatch: 16, text: 34,
            rows: [
                { kind: 'patch', label: 'U (zonal)', y: 9, color: C_U, edge: C_EDGE },
                { kind: 'patch', label: 'V (meridional)', y: 24, color: C_V, edge: C_EDGE }
            ]
        })]
    });
}

initMapChart();
initWindChart();
initLatChart();
initAltChart();
initHistChart();
</script>
</body>
</html>
